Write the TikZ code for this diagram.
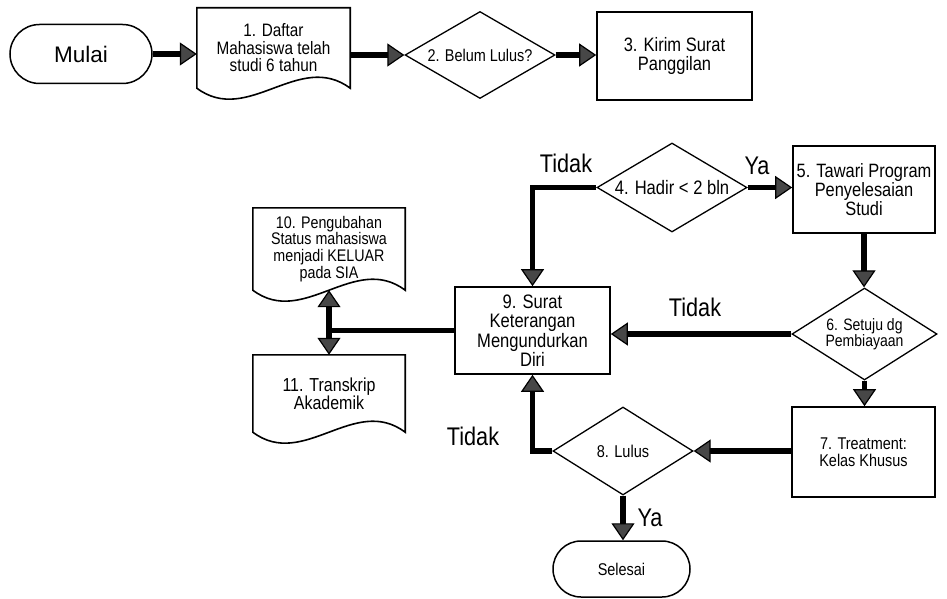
\documentclass[tikz,border=0pt]{standalone}
\usepackage{fontspec}
\setmainfont{Liberation Sans}[FakeStretch=0.85]
\newfontfamily\regfont{Liberation Sans}
\usetikzlibrary{arrows.meta,shapes.geometric,shapes.misc,calc}
\newcommand\fs[2]{\fontsize{#1}{#2}\selectfont}
\tikzset{
  box/.style={draw, line width=1.6pt, rectangle, inner sep=0pt, align=center},
  dec/.style={draw, line width=1.3pt, diamond, inner sep=0pt, align=center},
  term/.style={draw, line width=1.5pt, rounded rectangle, inner sep=0pt, align=center},
  docn/.style={rectangle, inner sep=0pt, align=center},
  tipA/.tip={Triangle[length=17pt,width=23pt,line width=1.2pt,fill=black!72]},
  flow/.style={line width=5.4pt, -tipA},
  dflow/.style={line width=5.4pt, tipA-tipA},
  plain/.style={line width=5.4pt},
  lbl/.style={font=\fs{25.5}{26}, inner sep=0pt},
}
\newcommand\docshape[1]{%
  \draw[line width=1.6pt] let \p1=(#1.south west), \p2=(#1.north east), \n1={\x2-\x1} in
    (\x1,\y2) -- (\x2,\y2) -- (\x2,\y1)
    .. controls ({\x2-\n1/3},{\y1+38pt}) and ({\x1+\n1/3},{\y1-38pt}) .. (\x1,\y1) -- cycle;}
\begin{document}
\begin{tikzpicture}[x=1pt,y=-1pt]
\useasboundingbox[fill=white] (0,0) rectangle (947,599);

% top row
\node[term, minimum width=142pt, minimum height=59pt, font=\regfont\fs{22.5}{24}] (mulai) at (81,54) {Mulai};
\node[docn, minimum width=153pt, minimum height=80pt, font=\fs{18}{17.5}] (d1) at (273.5,48) {1. Daftar\\Mahasiswa telah\\studi 6 tahun};
\docshape{d1}
\node[dec, aspect=1.72, minimum width=150pt, minimum height=87pt, font=\fs{17}{17}] (dec2) at (480,55) {2. Belum Lulus?};
\node[box, minimum width=155pt, minimum height=88pt, font=\fs{19.4}{18.5}] (b3) at (674.5,56) {3. Kirim Surat\\Panggilan};

% second part
\node[dec, aspect=1.69, minimum width=150pt, minimum height=89pt, font=\fs{19.5}{20}] (dec4) at (672,187.5) {4. Hadir < 2 bln};
\node[box, minimum width=142pt, minimum height=87pt, font=\fs{19.3}{17.5}] (b5) at (864,189.5) {5. Tawari Program\\Penyelesaian\\Studi};
\node[dec, aspect=1.58, minimum width=145pt, minimum height=92pt, font=\fs{16.5}{16}] (dec6) at (864.5,334) {6. Setuju dg\\Pembiayaan};
\node[box, minimum width=155pt, minimum height=87pt, font=\fs{19.5}{19.4}] (b9) at (532.5,330.5) {9. Surat\\Keterangan\\Mengundurkan\\Diri};
\node[docn, minimum width=152pt, minimum height=82pt, font=\fs{16.8}{16.8}] (d10) at (329,249) {10. Pengubahan\\Status mahasiswa\\menjadi KELUAR\\pada SIA};
\docshape{d10}
\node[docn, minimum width=152pt, minimum height=77pt, font=\fs{18.8}{18}] (d11) at (329,393.5) {11. Transkrip\\Akademik};
\docshape{d11}
\node[box, minimum width=143pt, minimum height=90pt, font=\fs{17}{17}] (b7) at (863.5,452) {7. Treatment:\\Kelas Khusus};
\node[dec, aspect=1.59, minimum width=140pt, minimum height=88pt, font=\fs{17.1}{17}] (dec8) at (623,451) {8. Lulus};
\node[term, minimum width=137pt, minimum height=56pt, font=\fs{17}{17}] (sel) at (621.5,569) {Selesai};

% labels
\node[lbl] (t1) at (566,163) {Tidak};
\node[lbl] (y1) at (757,166) {Ya};
\node[lbl] (t2) at (695,307) {Tidak};
\node[lbl] (t3) at (473,436) {Tidak};
\node[lbl] (y2) at (650,518) {Ya};

% connectors
\draw[flow] (mulai.east) -- (mulai.east -| d1.west);
\draw[flow] (d1.east |- dec2.west) -- (dec2.west);
\draw[flow] (dec2.east) -- (dec2.east -| b3.west);
\draw[flow] (dec4.east) -- (dec4.east -| b5.west);
\draw[flow] (dec4.west) -| (b9.north);
\draw[flow] (b5.south) -- (b5.south |- dec6.north);
\draw[flow] (dec6.west) -- (dec6.west -| b9.east);
\draw[flow] (dec6.south) -- (dec6.south |- b7.north);
\draw[flow] (b7.west |- dec8.east) -- (dec8.east);
\draw[flow] (dec8.west) -| (b9.south);
\draw[flow] (dec8.south) -- (dec8.south |- sel.north);
\coordinate (j) at (d10.south |- b9.west);
\draw[plain] (b9.west) -- (j);
\draw[dflow] (d10.south) -- (d11.north);
\end{tikzpicture}
\end{document}
